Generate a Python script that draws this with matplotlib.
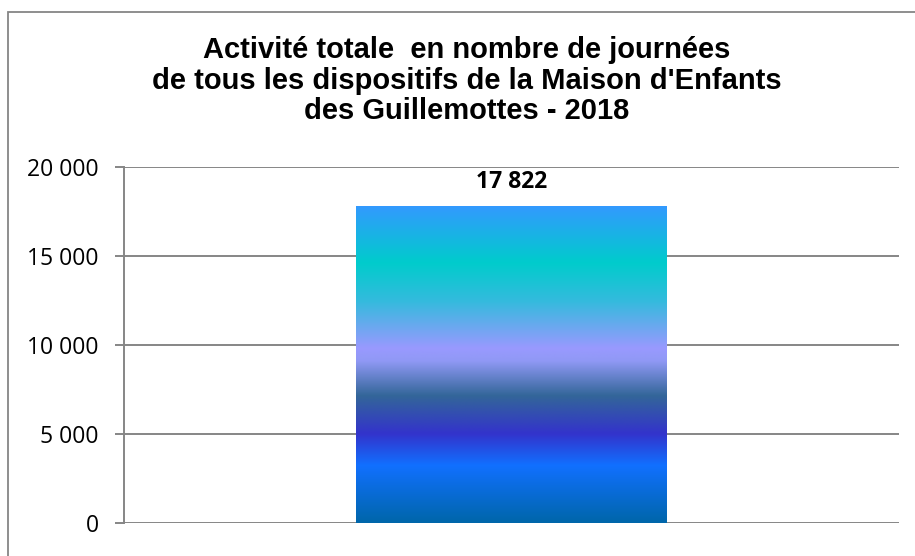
"""Activité totale en nombre de journées - Maison d'Enfants des Guillemottes 2018."""
import matplotlib
matplotlib.use("Agg")
import matplotlib.pyplot as plt
import numpy as np
from matplotlib.colors import LinearSegmentedColormap
from matplotlib.patches import Rectangle
from matplotlib.ticker import FuncFormatter

# data
categories = ["2018"]
values = [17822]
title_lines = [
    "Activité totale  en nombre de journées",
    "de tous les dispositifs de la Maison d'Enfants",
    "des Guillemottes - 2018",
]
y_ticks = [0, 5000, 10000, 15000, 20000]

# gradient stops of the bar fill, top -> bottom
grad_stops = [
    (0.00, "#3399FF"),
    (0.18, "#00CCCC"),
    (0.30, "#33BBDD"),
    (0.45, "#9999FF"),
    (0.49, "#9099F5"),
    (0.60, "#336699"),
    (0.72, "#3333CC"),
    (0.82, "#1170FF"),
    (1.00, "#0066AA"),
]

GRAY = "#868686"


def fmt_thousands(v, _pos=None):
    return f"{v:,.0f}".replace(",", " ")


def main():
    W, H = 915, 556
    fig = plt.figure(figsize=(W / 100, H / 100), dpi=100)
    ax = fig.add_axes([124 / W, 1 - 523 / H, (899 - 124) / W, (523 - 167) / H])

    cmap = LinearSegmentedColormap.from_list("bar_grad", grad_stops)
    x = np.arange(len(categories))
    bars = ax.bar(x, values, width=0.401, color="none", edgecolor="none", zorder=3)
    grad = np.linspace(0, 1, 256).reshape(-1, 1)
    for b in bars:
        x0, w, h = b.get_x(), b.get_width(), b.get_height()
        im = ax.imshow(grad, cmap=cmap, aspect="auto", origin="upper",
                       extent=[x0, x0 + w, 0, h], zorder=3, interpolation="bicubic")
        im.set_clip_path(b)
        ax.annotate(fmt_thousands(h), (x0 + w / 2, h), xytext=(0, 12.5),
                    textcoords="offset points", ha="center", va="baseline",
                    fontsize=16.5, fontweight="bold", family="Open Sans", color="#000000")

    ax.set_xlim(-0.5, len(categories) - 0.5)
    ax.set_ylim(0, 20000)
    ax.set_yticks(y_ticks)
    ax.yaxis.set_major_formatter(FuncFormatter(fmt_thousands))
    ax.set_xticks([])
    ax.grid(axis="y", color=GRAY, linewidth=1.4, zorder=0)
    ax.set_axisbelow(True)
    for side in ["top", "right", "bottom"]:
        ax.spines[side].set_visible(False)
    ax.spines["left"].set_color(GRAY)
    ax.spines["left"].set_linewidth(1.4)
    ax.tick_params(axis="y", direction="out", length=6.5, width=1.4, color=GRAY,
                   pad=11.5, labelsize=16.5, labelcolor="#000000")
    for lbl in ax.get_yticklabels():
        lbl.set_family("Open Sans")

    # title, one text per line
    baselines = [58, 89, 119]
    for line, yb in zip(title_lines, baselines):
        fig.text(467 / W, 1 - yb / H, line, ha="center", va="baseline",
                 fontsize=21, fontweight="bold", family="Liberation Sans")

    # chart border
    fig.patches.append(Rectangle((8 / W, -0.05), 1.05, 1 - 12 / H + 0.05,
                                 transform=fig.transFigure, fill=False,
                                 edgecolor=GRAY, linewidth=1.3))

    fig.savefig("out.png", dpi=100)


if __name__ == "__main__":
    main()
